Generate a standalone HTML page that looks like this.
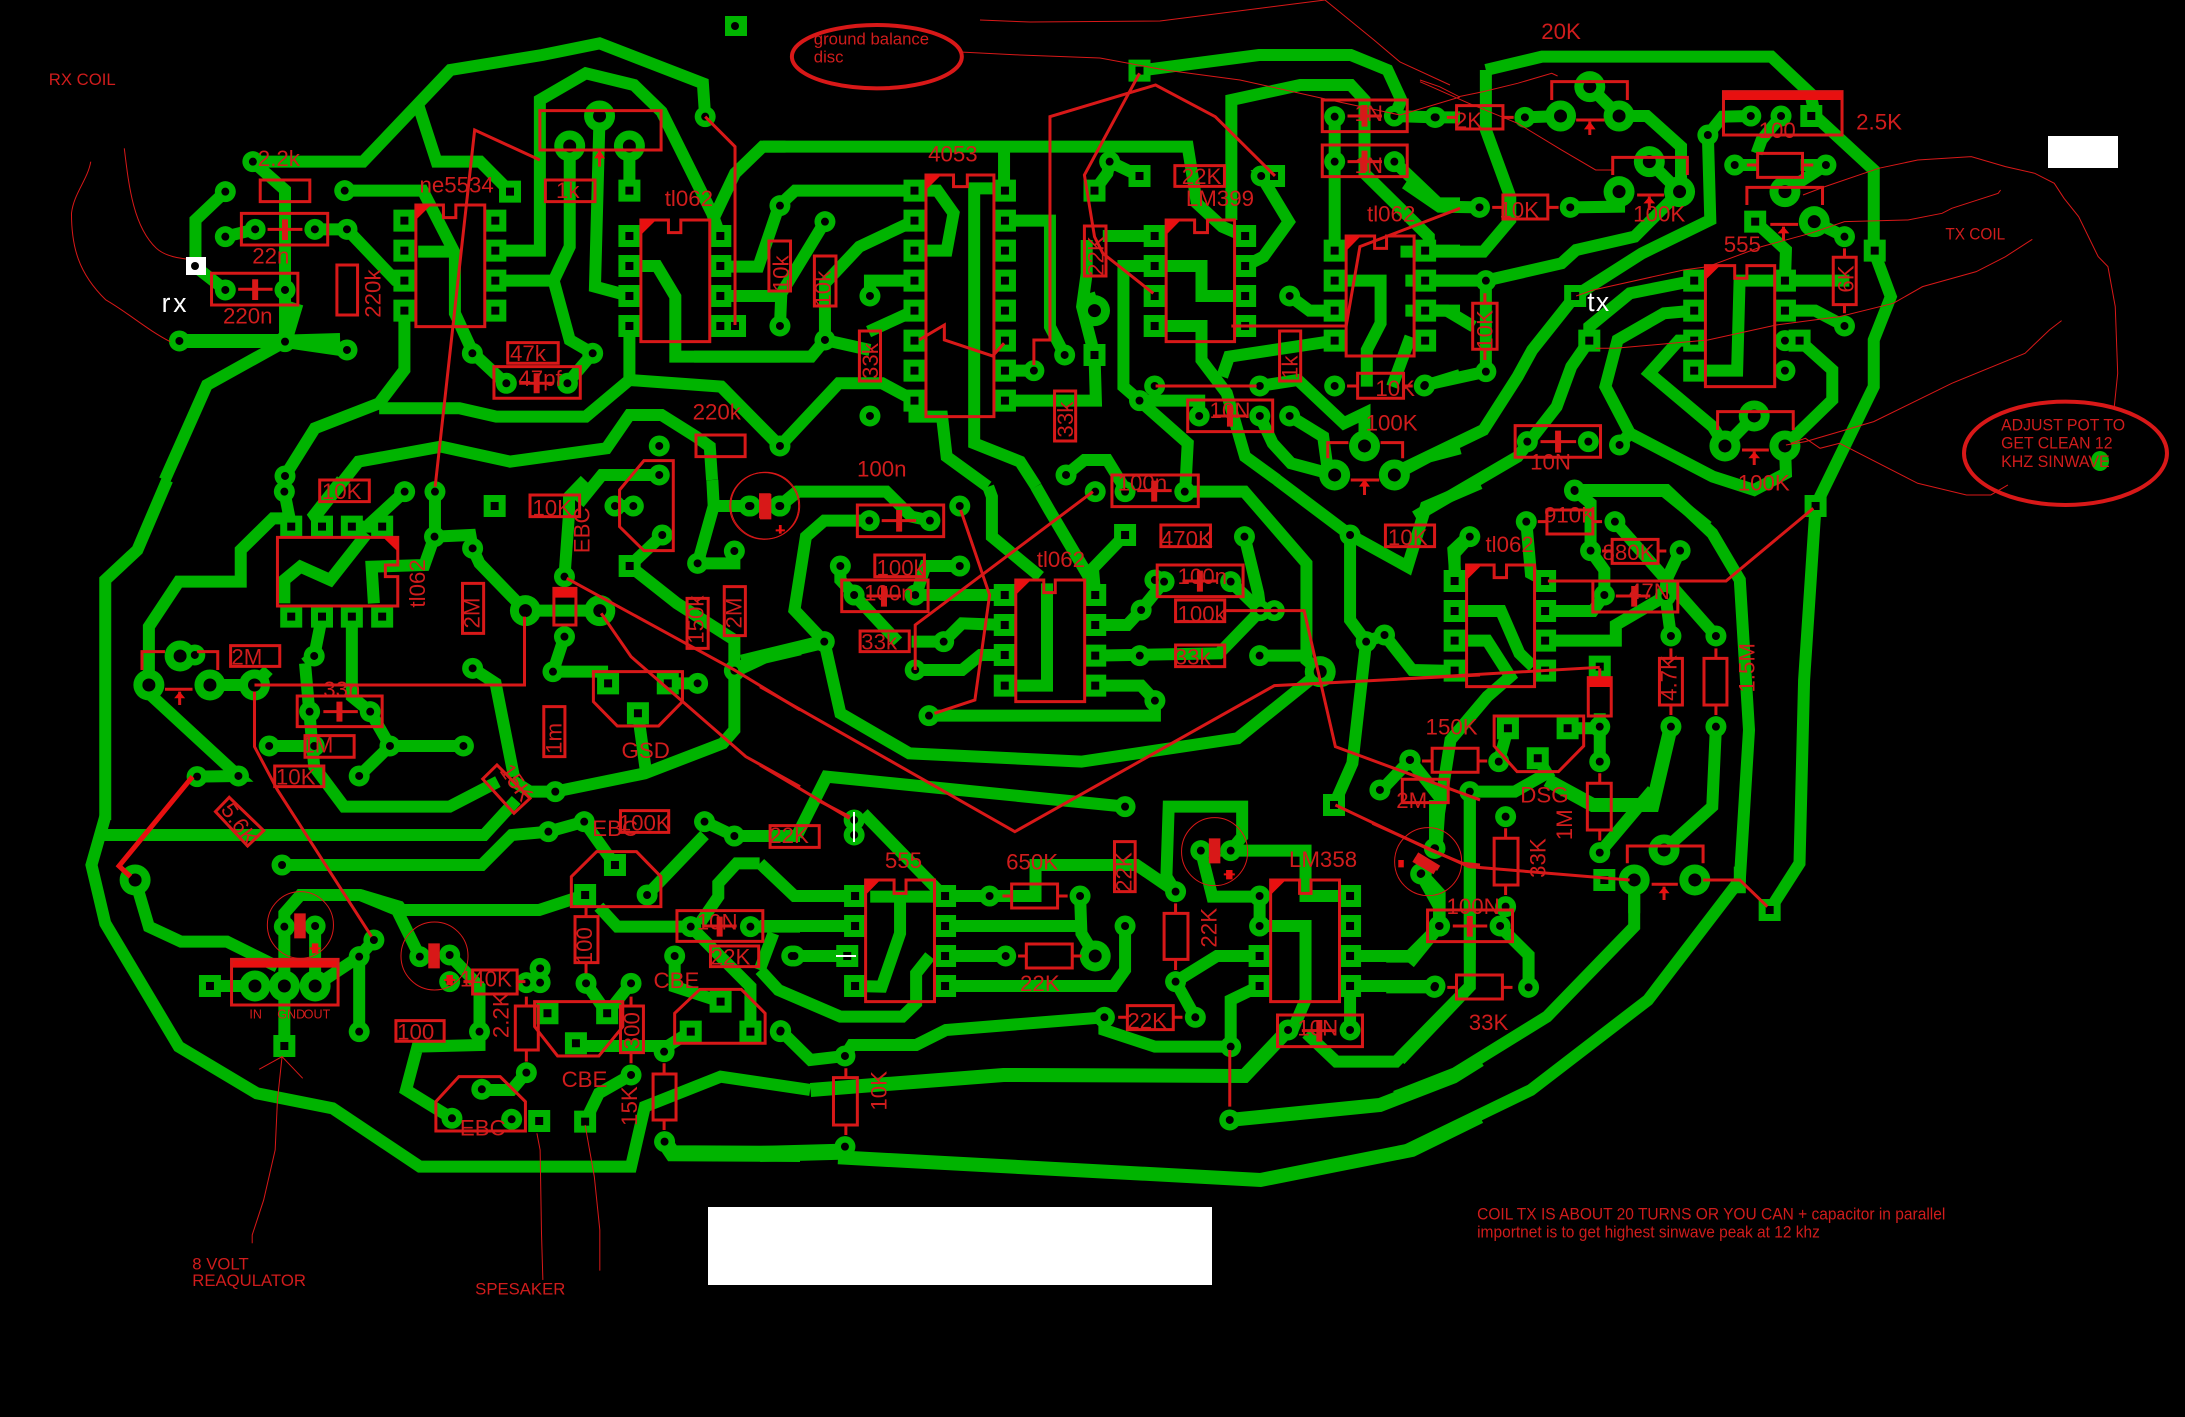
<!DOCTYPE html>
<html><head><meta charset="utf-8"><title>PCB layout</title>
<style>
html,body{margin:0;padding:0;background:#000}
svg{display:block}
path,ellipse{vector-effect:non-scaling-stroke}
.g path{fill:none;stroke:#00b400;stroke-width:12px;stroke-linejoin:miter}
.g path.w{stroke-width:14px}
.g path.x{stroke-width:16px}
.n,.q,.b{fill:none;stroke:var(--c)}
.n{stroke-width:var(--n);stroke-linecap:round}
.q{stroke-width:var(--q);stroke-linecap:square}
.b{stroke-width:var(--b);stroke-linecap:round}
.L1{--c:#00b400;--n:21px;--q:22px;--b:31px}
.L2{--c:#000;--n:8px;--q:8px;--b:13px}
.r path,.r ellipse{fill:none;stroke:#d81818;stroke-width:3px}
.r path.t,.r ellipse.t{stroke-width:1px}
.r path.h{stroke-width:6px}
.r path.f{fill:#e81010;stroke:none}
text{font-family:"Liberation Sans",sans-serif;fill:#d01c1c;font-size:16px}
.s{font-size:12px}
.xs{font-size:9px}
</style></head><body>
<svg xmlns="http://www.w3.org/2000/svg" width="2185" height="1417" viewBox="0 0 2185 1417">
<rect width="2185" height="1417" fill="#000"/>
<defs>
<g id="pA"><path class="n" d="M420 365h0M360 455h0M360 590h0M425 568h0M555 568h0M625 568h0M620 452h0M360 750h0M490 750h0M260 903h0M490 905h0M625 930h0M1405 230h0M898 940h0M1160 940h0M1105 1030h0M972 1030h0M490 1308h0M1305 1218h0M1305 1305h0"/><path class="b" d="M1175 228h0M1110 318h0M1240 318h0"/><path class="q" d="M750 542h0M750 632h0M750 722h0M750 812h0M948 542h0M948 632h0M948 722h0M948 812h0M980 455h0M1240 452h0M1240 588h0M1240 678h0M1240 768h0M1240 858h0M1438 588h0M1438 678h0M1438 768h0M1438 858h0M1470 858h0"/></g>
<g id="pB"><path class="n" d="M87 497h0M185 545h0M87 858h0M185 900h0M283 768h0M87 1218h0M640 992h0M707 945h0M805 365h0M1135 408h0M903 1038h0M1132 1038h0M870 1082h0M1000 1128h0M1132 1128h0M1197 1128h0M1197 768h0M1295 365h0M1295 230h0M1425 228h0M1425 365h0M1515 232h0M1295 1038h0M1490 1038h0M710 1305h0M283 1128h0"/><path class="b" d="M1360 1218h0M1295 1305h0M1425 1305h0M772 812h0"/><path class="q" d="M380 452h0M380 542h0M380 632h0M380 722h0M380 812h0M380 902h0M380 992h0M380 1082h0M577 452h0M577 542h0M577 632h0M577 722h0M577 812h0M577 902h0M577 992h0M577 1082h0M870 92h0M870 408h0M772 452h0M772 945h0M1163 408h0M903 588h0M903 678h0M903 768h0M903 858h0M1100 588h0M1100 678h0M1100 768h0M1100 858h0M1295 632h0M1295 722h0M1295 812h0M1295 902h0M1492 632h0M1492 722h0M1492 812h0M1492 902h0"/></g>
<g id="pC"><path class="n" d="M30 232h0M215 232h0M308 502h0M122 502h0M135 722h0M135 995h0M10 1035h0M590 285h0M678 228h0M740 228h0M645 375h0M832 375h0M870 590h0M748 902h0M748 992h0M870 858h0M220 1205h0M345 1205h0M409 1215h0M317 1353h0"/><path class="b" d="M348 140h0M288 228h0M408 228h0M470 365h0M408 455h0M532 455h0M748 455h0M808 545h0M685 1128h0M625 1218h0M748 1218h0"/><path class="q" d="M802 228h0M932 632h0M318 768h0M347 902h0M562 722h0M562 812h0M562 902h0M562 992h0M748 722h0M748 812h0M778 902h0M687 545h0"/></g>
<g id="pD"><path class="n" d="M445 35h0M707 35h0M773 35h0M1165 78h0M1205 78h0M1055 290h0M1268 165h0M1345 250h0M1425 213h0M1460 78h0M1525 78h0M855 205h0M772 170h0M855 565h0M1055 470h0M1030 575h0M510 528h0M500 695h0M632 695h0M412 798h0M510 798h0M675 798h0M835 798h0M608 888h0M345 888h0M255 890h0M250 525h0M1345 610h0M1035 935h0M1425 572h0"/><path class="b" d="M150 615h0M218 528h0M283 615h0M380 615h0M970 392h0M1132 392h0"/><path class="q" d="M460 140h0M527 140h0M592 140h0M658 140h0M460 410h0M527 410h0M592 410h0M658 410h0M903 78h0M1197 258h0M1150 610h0M1280 610h0M1215 700h0"/></g>
<g id="pE"><path class="n" d="M-24 78h0M42 78h0M238 122h0M370 122h0M435 78h0M175 258h0M435 258h0M205 345h0M338 345h0M400 485h0M140 485h0M338 570h0M368 707h0M860 662h0M827 527h0M830 390h0M880 305h0M860 300h0M1025 305h0M1055 170h0M1090 392h0M1120 392h0M1088 527h0M730 35h0M795 35h0M925 35h0M1285 165h0M1320 485h0M1360 465h0M1415 840h0M1350 930h0M795 980h0M205 1020h0M205 1065h0"/><path class="b" d="M1220 575h0"/><path class="q" d="M533 345h0M533 435h0M533 525h0M533 617h0M730 345h0M730 435h0M730 527h0M730 617h0M795 165h0M1250 975h0"/></g>
<g id="pF"><path class="n" d="M380 30h0M275 125h0M468 125h0M415 212h0M610 212h0M445 345h0M578 348h0M590 468h0M688 468h0M152 170h0M435 740h0M435 845h0M590 740h0M688 740h0M22 840h0M215 845h0M152 935h0M230 1010h0M435 1118h0M230 1280h0M75 1105h0M45 1182h0M85 1338h0M218 1338h0"/><path class="b" d="M575 1110h0M510 1200h0M642 1200h0"/><path class="q" d="M119 303h0M119 393h0M119 482h0M119 572h0M316 303h0M316 393h0M316 482h0M316 572h0M905 78h0M435 560h0M235 745h0M365 745h0M300 835h0M445 1200h0M805 1290h0"/></g>
<g id="pG"><path class="n" d="M1020 95h0M1098 65h0M1360 65h0M1425 108h0M440 195h0M1235 285h0M445 380h0M512 378h0M740 470h0M805 465h0M805 545h0M640 420h0M608 470h0M608 695h0M870 695h0M972 548h0M1002 505h0M1002 548h0M1102 550h0M1200 550h0M972 818h0M875 868h0M1200 825h0M810 955h0M940 958h0M1272 755h0M1273 1025h0M1295 468h0M1330 380h0M1460 380h0M1525 695h0M1550 468h0"/><path class="b" d="M120 240h0M381 558h0M445 558h0M512 558h0"/><path class="q" d="M283 558h0M445 738h0M1165 195h0M1100 285h0M1018 640h0M1148 640h0M1080 730h0M1000 963h0M1100 965h0M1395 605h0M1330 695h0M1460 695h0"/></g>
<g id="pH"><path class="n" d="M500 288h0M697 288h0M905 275h0M960 152h0M1025 152h0M795 378h0M75 468h0M535 468h0M45 692h0M185 768h0M185 1040h0M750 652h0M948 652h0M905 545h0M1088 288h0M1088 378h0M1025 740h0M1023 960h0M1150 690h0M1285 690h0M1470 558h0M1480 378h0M1470 145h0M1440 220h0"/><path class="b" d="M730 468h0"/><path class="q" d="M207 288h0M207 378h0M190 468h0M207 558h0M403 288h0M403 378h0M403 468h0M403 558h0M1088 468h0M1088 558h0M1285 288h0M1285 378h0M1285 468h0M1285 558h0"/></g>
<g id="pI"><path class="n" d="M75 562h0M280 562h0"/></g>
</defs>

<!-- green traces -->
<g class="g">
<g transform="translate(60 40) scale(.4592 .3333)">
<path d="M420 365 660 365 850 90 1050 45 1175 10 1400 130 1405 230"/>
<path d="M780 195 820 365 915 365 980 455"/>
<path d="M420 365 490 450 490 905"/>
<path d="M360 455 295 540 295 680 360 750"/>
<path d="M360 590 425 568M555 568 625 568 730 720 750 722"/>
<path d="M620 452 790 452 860 640 860 820 900 940 970 1030"/>
<path d="M780 635 860 635"/>
<path d="M750 812 750 990 695 1090 555 1165 490 1308"/>
<path d="M695 1105 870 1105 950 1130 1145 1130 1240 1020 1240 858"/>
<path d="M1240 1020 1440 1040 1568 1220"/>
<path d="M948 632 1045 632 1045 180 1145 100 1250 135 1310 215 1420 520 1438 588"/>
<path d="M1425 530 1470 400 1530 320 1580 320"/>
<path d="M948 722 1075 722 1110 620 1110 318"/>
<path d="M1075 722 1110 900 1160 940 1105 1030"/>
<path d="M1175 228 1165 740 1240 768"/>
<path d="M1240 318 1240 452"/>
<path class="w" d="M260 903 490 903 625 930M490 905 610 900M515 790 490 905"/>
<path d="M490 905 320 1035 228 1320"/>
<path d="M1240 678 1300 678 1340 770 1340 950 1568 950"/>
<path d="M1438 768 1568 768"/>
<path d="M1305 1305 1180 1305 1130 1390"/>
<path d="M550 1440 650 1265 830 1220 980 1265 1190 1225 1240 1125 1310 1125 1385 1190 1415 1220 1420 1320"/>
</g>
<g transform="translate(740 40) scale(.4592 .3333)">
<path d="M870 92 1130 45 1330 45 1410 90 1440 180 1425 228 1515 232 1568 232"/>
<path d="M1425 365 1520 490 1568 490"/>
<path d="M1070 540 1070 180 1220 135 1330 135 1360 180 1360 400 1500 590 1500 632"/>
<path d="M50 320 975 320 995 490 1050 560 1100 590"/>
<path d="M575 320 575 452"/>
<path d="M380 452 430 452 465 520 450 632 380 632"/>
<path d="M380 452 120 452 85 497 40 680 -43 680"/>
<path d="M185 545 90 760 87 858"/>
<path d="M380 542 260 620 185 730 185 900 155 950 -100 950"/>
<path d="M185 900 283 930M280 875 380 812"/>
<path d="M380 722 283 722 283 768"/>
<path d="M0 768 100 768"/>
<path d="M380 1082 310 1030 215 1030 87 1218 -41 1040"/>
<path d="M380 1082 380 1130 440 1130 450 1250 540 1340"/>
<path d="M555 445 510 445 510 1210 610 1265 645 1340"/>
<path d="M577 542 675 542 675 860 707 945"/>
<path d="M577 992 640 992"/>
<path d="M577 1082 775 1082 772 945 745 800 755 700 755 600M772 812 760 760"/>
<path d="M772 452 800 400 805 365 870 408"/>
<path d="M790 588 903 588"/>
<path d="M903 678 835 678 835 1040 870 1082 975 1210 970 1340"/>
<path d="M903 678 1005 678 1005 768 1100 768"/>
<path d="M870 1082 1000 1082 1000 1128"/>
<path d="M1100 678 1140 650 1195 545 1135 408 1163 408"/>
<path d="M930 858 1005 858 1005 960 1060 1060 1100 1250 1170 1320"/>
<path d="M1050 1010 1065 950 1295 902"/>
<path d="M1132 1038 1215 1020 1315 1150 1360 1120 1360 1218"/>
<path d="M1132 1128 1160 1210 1200 1270 1295 1305"/>
<path d="M1197 1128 1270 1190 1280 1290"/>
<path d="M1425 1305 1500 1250 1568 1225"/>
<path d="M1490 1038 1568 1005"/>
<path d="M1295 230 1295 632"/>
<path d="M1295 722 1395 722 1395 850 1365 930 1365 1040"/>
<path d="M1197 768 1240 812 1295 812"/>
<path d="M1460 890 1420 1040"/>
<path d="M1492 632 1568 632M1492 722 1568 722M1492 812 1568 812"/>
<path d="M710 1305 750 1260 800 1260 840 1350"/>
</g>
<g transform="translate(1420 40) scale(.4879 .3333)">
<path d="M135 90 250 50 720 50 800 160 810 228 930 390 930 632 965 770 930 900 930 1040 810 1400"/>
<path d="M135 90 135 270 185 470 185 540 130 635 -40 635"/>
<path d="M348 140 408 228 465 228 535 320 535 455"/>
<path d="M470 365 532 455"/>
<path d="M408 455 408 500 308 502"/>
<path d="M-30 430 40 500 122 502"/>
<path d="M532 455 440 590 320 630 290 670 135 722 -30 722"/>
<path d="M135 722 135 995 10 1035"/>
<path d="M-30 812 55 812 110 860"/>
<path d="M678 228 620 230 590 285 595 540 455 640 318 768"/>
<path d="M318 768 230 930 200 1010 130 1170 -40 1290"/>
<path d="M347 902 310 980 280 1100 200 1250 -10 1430"/>
<path d="M562 722 430 760 347 860 347 902"/>
<path d="M562 812 500 820 405 900 380 1040 430 1180 600 1310 685 1350 750 1300 748 1218"/>
<path d="M562 902 530 902 470 1000 600 1160 625 1218"/>
<path d="M778 902 845 990 845 1080 748 1218"/>
<path d="M685 1128 625 1218"/>
<path d="M562 992 650 992 655 722 748 722 880 722"/>
<path d="M748 812 810 812 870 858"/>
<path d="M740 228 700 300 690 340M832 375 748 455"/>
<path d="M645 375 690 375M780 375 832 375"/>
<path d="M687 545 750 630 748 722"/>
<path d="M808 545 870 590"/>
<path d="M409 1215 430 1180"/>
<path d="M317 1353 500 1353 590 1460"/>
<path d="M288 228 215 232"/>
</g>
<g transform="translate(80 480) scale(.4592 .3333)">
<path d="M190 0 125 210 55 300 55 1020"/>
<path d="M940 900 980 935 1035 935 1230 880 1400 790 1425 750 1425 572"/>
<path d="M945 890 905 610 855 565"/>
<path d="M490 550 510 860 575 980 805 980 910 905"/>
<path d="M510 528 490 550M510 528 527 410"/>
<path d="M592 410 592 650 632 695 675 798 835 798M675 798 608 888"/>
<path d="M412 798 510 798"/>
<path d="M445 35 460 140"/>
<path d="M527 140 510 105 570 0"/>
<path d="M707 35 640 120 658 140"/>
<path d="M592 140 658 140"/>
<path d="M445 370 445 300 480 260 545 300 625 160"/>
<path d="M640 370 635 260 750 255 772 170 850 165 855 205 870 250 970 392"/>
<path d="M773 35 773 170"/>
<path d="M970 392 1132 392"/>
<path d="M1055 290 1065 100 1065 50 1100 0"/>
<path d="M1055 470 1030 575 1150 575"/>
<path d="M1280 610 1345 610"/>
<path d="M1215 700 1232 870"/>
<path d="M1165 78 1205 78"/>
<path d="M1268 165 1197 258"/>
<path d="M1197 258 1300 370 1425 480 1425 572"/>
<path class="w" d="M1425 572 1490 530 1568 505"/>
<path d="M150 615 150 440 215 305 350 305 350 210 420 115 460 115"/>
<path d="M218 528 250 525"/>
<path d="M283 615 380 615 410 570"/>
<path d="M150 640 345 888 255 890"/>
<path d="M1460 78 1380 78 1345 250 1425 250 1425 213M1377 0 1380 78"/>
<path d="M1525 78 1568 30"/>
</g>
<g transform="translate(80 800) scale(.4592 .3333)">
<path d="M55 50 25 195 55 370 215 740 385 880 550 925 740 1100 1200 1100 1230 920 1395 830 1590 870"/>
<path d="M50 105 880 105 950 0"/>
<path d="M440 195 875 195 940 105 1020 95 1098 65 1165 195"/>
<path d="M1360 65 1425 108 1568 108"/>
<path d="M1360 105 1235 285"/>
<path d="M1100 285 1000 330 700 330 695 320 610 285 480 285 445 340 445 558 445 738"/>
<path d="M610 285 690 330 740 470"/>
<path d="M512 378 512 558"/>
<path d="M283 558 381 558"/>
<path d="M512 558 608 470 640 420M608 470 608 695"/>
<path d="M120 240 150 380 220 425 320 425 430 500"/>
<path d="M805 465 870 560 870 735 735 740 710 870 810 955"/>
<path d="M1002 505 1002 548 972 548"/>
<path d="M972 818 940 870 875 870"/>
<path d="M1102 550 1148 640 1200 550"/>
<path d="M1080 738 1280 738 1330 695"/>
<path d="M1200 825 1130 880 1100 965"/>
<path class="x" d="M1273 1025 1290 1060 1568 1062"/>
<path d="M1130 320 1170 380 1330 380 1460 560 1460 695"/>
<path d="M1295 468 1295 560 1395 605"/>
<path d="M1460 380 1568 380"/>
<path d="M1350 370 1390 290 1390 250 1430 190 1480 190"/>
<path d="M1510 400 1480 510"/>
</g>
<g transform="translate(760 480) scale(.4592 .3333)">
<path d="M42 78 80 35 275 35 330 110 370 122"/>
<path d="M238 122 140 122 100 170 75 390 140 485 175 700 325 820 700 845 1040 775 1220 575"/>
<path class="w" d="M-40 545 140 485"/>
<path d="M175 258 175 300 205 345 300 485"/>
<path d="M435 258 360 258 340 345"/>
<path d="M338 345 533 345"/>
<path d="M400 485 330 485M400 485 440 430 533 435"/>
<path d="M338 570 440 570 480 525 533 525"/>
<path d="M533 617 625 617 625 310"/>
<path d="M497 20 505 50 505 170 610 290"/>
<path d="M601 20 630 90 720 300 730 345"/>
<path d="M795 165 725 265 730 345"/>
<path d="M730 435 800 435 830 390 880 305"/>
<path d="M1055 170 1085 340 1090 392"/>
<path d="M1025 305 1090 392"/>
<path d="M1090 392 1000 520 730 527"/>
<path d="M1090 392 1120 392"/>
<path d="M925 35 1055 35 1190 250 1190 540 1220 575"/>
<path d="M1088 527 1190 527"/>
<path d="M730 617 830 617 860 662 860 707 368 707"/>
<path d="M1285 165 1285 420 1320 485 1290 850 1250 975"/>
<path d="M1126 0 1285 165 1410 260 1450 80 1568 10"/>
<path d="M1320 485 1360 465 1420 570 1515 573"/>
<path d="M1545 165 1510 210 1515 305"/>
<path d="M80 1068 145 890 795 980"/>
<path d="M0 1068 80 1068"/>
<path d="M225 1000 400 1248"/>
<path d="M205 1020 205 1065"/>
</g>
<g transform="translate(760 800) scale(.4592 .3333)">
<path d="M0 190 75 288 207 288"/>
<path d="M403 288 500 288 600 288 600 195 820 195 905 275"/>
<path d="M0 378 207 378"/>
<path d="M75 468 190 468"/>
<path d="M240 290 403 290"/>
<path d="M305 300 305 400 265 560 207 558"/>
<path d="M403 378 695 378"/>
<path d="M697 288 700 400 730 468"/>
<path d="M403 468 535 468"/>
<path d="M403 558 770 558 795 510 795 378"/>
<path d="M370 468 340 520 340 610 310 650 175 650 40 570 0 510"/>
<path d="M905 275 885 230 890 20 1050 20 1050 110 1025 152 1188 152 1188 288 1285 288"/>
<path d="M960 152 985 290 1088 290 1088 378 1188 378 1188 600 1160 690"/>
<path d="M905 545 995 468 1088 468"/>
<path d="M905 545 948 652"/>
<path d="M1088 558 1025 600 1025 740 860 740 750 690 750 652 405 690 340 735 200 735 185 768 110 780 45 692"/>
<path class="w" d="M110 870 530 825 1055 828 1150 690"/>
<path d="M1285 468 1415 468 1480 378 1480 280 1440 220"/>
<path d="M1285 558 1470 558"/>
<path d="M1285 558 1285 690"/>
<path d="M1190 700 1255 785 1385 785 1545 560"/>
<path d="M1470 145 1470 0"/>
<path class="w" d="M1023 960 1350 915 1510 830 1568 780"/>
<path class="x" d="M0 1062 185 1055"/>
<path class="w" d="M170 1072 1090 1140 1420 1050 1568 950"/>
</g>
<g transform="translate(1400 480) scale(.4592 .3333)">
<path d="M380 30 580 30 680 160 740 300 760 750 740 1200 740 1240"/>
<path d="M905 78 880 600 870 1150 805 1290"/>
<path d="M380 30 415 70 415 212 445 270 445 345"/>
<path d="M275 125 285 280 316 303"/>
<path d="M468 125 688 468"/>
<path d="M610 212 580 300 578 348 470 435 470 482 316 482"/>
<path d="M578 348 590 468"/>
<path d="M316 393 420 393 445 345"/>
<path d="M152 170 119 220 119 303"/>
<path d="M119 393 220 393 260 520 290 560"/>
<path d="M119 482 190 482 240 590 190 650 110 780 85 1000 80 1100"/>
<path d="M435 560 435 590M435 700 435 845M365 745 435 745"/>
<path d="M235 745 215 845"/>
<path d="M300 835 320 880 250 935 152 935 152 1440"/>
<path class="w" d="M320 900 420 975 550 975 590 740"/>
<path d="M550 930 435 1118"/>
<path d="M688 740 680 980 575 1110"/>
<path d="M510 1200 510 1300"/>
<path d="M22 840 -40 930M22 840 85 950"/>
<path d="M45 1182 85 1280 85 1338"/>
<path d="M85 1340 20 1450"/>
</g>
<g transform="translate(1400 800) scale(.4592 .3333)">
<path d="M740 200 740 240 540 600 285 870 0 1060"/>
<path d="M510 240 510 380 320 650 120 820 -10 890"/>
<path d="M218 380 280 465 280 562"/>
<path d="M75 562 -30 562"/>
<path d="M152 0 152 560 0 780"/>
<path d="M-30 470 25 470 85 380"/>
</g>
</g>

<!-- pads -->
<g class="L1">
<use href="#pA" transform="translate(60 40) scale(.4592 .3333)"/>
<use href="#pB" transform="translate(740 40) scale(.4592 .3333)"/>
<use href="#pC" transform="translate(1420 40) scale(.4879 .3333)"/>
<use href="#pD" transform="translate(80 480) scale(.4592 .3333)"/>
<use href="#pE" transform="translate(760 480) scale(.4592 .3333)"/>
<use href="#pF" transform="translate(1400 480) scale(.4592 .3333)"/>
<use href="#pG" transform="translate(80 800) scale(.4592 .3333)"/>
<use href="#pH" transform="translate(760 800) scale(.4592 .3333)"/>
<use href="#pI" transform="translate(1400 800) scale(.4592 .3333)"/>
</g>
<rect x="725" y="16" width="22" height="20" fill="#00b400"/>
<ellipse cx="2100" cy="461" rx="9" ry="10" fill="#00b400"/>
<g class="L2">
<use href="#pA" transform="translate(60 40) scale(.4592 .3333)"/>
<use href="#pB" transform="translate(740 40) scale(.4592 .3333)"/>
<use href="#pC" transform="translate(1420 40) scale(.4879 .3333)"/>
<use href="#pD" transform="translate(80 480) scale(.4592 .3333)"/>
<use href="#pE" transform="translate(760 480) scale(.4592 .3333)"/>
<use href="#pF" transform="translate(1400 480) scale(.4592 .3333)"/>
<use href="#pG" transform="translate(80 800) scale(.4592 .3333)"/>
<use href="#pH" transform="translate(760 800) scale(.4592 .3333)"/>
<use href="#pI" transform="translate(1400 800) scale(.4592 .3333)"/>
</g>
<circle cx="735" cy="26" r="4" fill="#000"/>

<!-- red layer -->
<g class="r">
<g transform="translate(60 40) scale(.4592 .3333)">
<path d="M436 420h108v65h-108zM395 520h188v95h-188zM452 568h76M330 700h188v95h-188zM388 748h75M603 675h45v150h-45zM1045 212h264v118h-264zM1057 420h108v65h-108zM975 908h110v62h-110zM945 980h188v95h-188zM1000 1030h75M1385 1185h107v65h-107z"/>
<path d="M775 495H835V533H862V495H925V860H775zM1265 540H1325V578H1352V540H1415V905H1265zM1175 330V380"/>
<path d="M817 1340 903 270 1045 360M1405 230 1470 320 1470 855"/>
<path class="h" d="M490 538V600M425 718V780M1038 1000V1060"/>
<path class="f" d="M775 495H808L775 540zM1265 540H1298L1265 585zM1163 355H1187L1175 330z"/>
<path class="t" d="M67 365C60 420 30 460 25 520 25 620 40 700 100 780 150 820 190 870 240 905M140 325C150 440 160 560 210 625 230 650 260 655 290 660"/>
</g>
<g transform="translate(740 40) scale(.4592 .3333)">
<path d="M870 100 750 405 772 590 790 640 900 760M640 975 640 900 675 900 675 230 905 135 1035 230 1165 408M390 900 445 855 445 900 550 948 575 910M1070 858 1320 858 1350 620 1568 505"/>
<path d="M905 1038H1125"/>
<path d="M405 405H465V440H495V405H553V1130H405zM928 540H990V578H1018V540H1077V905H928zM1320 588H1382V625H1408V588H1468V948H1320z"/>
<path d="M63 603h47v150h-47zM162 648h47v150h-47zM260 873h46v150h-46zM750 558h47v150h-47zM685 1053h46v150h-46zM947 377h108v62h-108zM1175 873h46v150h-46zM1345 1000h100v75h-100zM1322 1038h23M1445 1038h20M975 1080h185v95h-185zM1030 1128h75M810 1305h188v95h-188zM865 1352h75M1268 180h185v95h-185zM1323 228h75M1268 315h185v95h-185zM1323 365h75"/>
<path d="M1280 1255V1208H1325M1395 1208H1443V1255M1330 1320H1392M1360 1325V1365"/>
<path class="h" d="M1067 1095V1160M902 1322V1385M1360 195V260M1360 332V395"/>
<path class="f" d="M405 405H438L405 450zM928 540H960L928 585zM1320 588H1352L1320 633zM1348 1340H1372L1360 1318z"/>
<path d="M298 -45a185 95 0 1 0 .1 0z" style="stroke-width:4px"/>
<ellipse class="t" cx="55" cy="1397" rx="75" ry="100"/>
<path class="h" d="M48 1360V1435M60 1360V1435"/>
</g>
<g transform="translate(1420 40) scale(.4879 .3333)">
<path d="M75 197h95v70h-95zM55 232h20M170 232h22M270 180V125H425V180M320 240H378M348 245V285M395 405V352H548V405M445 465H500M470 470V510M170 465h92v72h-92zM148 502h22M262 502h22"/>
<path d="M622 155H865V285H622zM692 340h92v72h-92zM670 375h22M784 375h22M670 495V442H825V495M718 553H775M745 560V600M585 677H645V715H670V677H727V1040H585zM847 652h47v142h-47zM870 625V652M870 794V820M108 790h50v138h-50zM133 760V790M133 928V960M195 1157h175v95h-175zM247 1205h73M610 1170V1115H765V1170M660 1230H715M685 1235V1275"/>
<path class="f" d="M622 155H865V180H622zM585 677H615L585 720zM336 268H360L348 245zM458 490H482L470 470zM733 580H757L745 560zM673 1255H697L685 1235z"/>
<path class="h" d="M283 1172V1238"/>
<ellipse cx="1323" cy="1240" rx="208" ry="155" style="stroke-width:4px"/>
<path class="t" d="M1190 450 1185 460 1090 505 1070 520 1000 540 870 545 800 580 700 620 590 680 540 690 355 750 320 768M1255 598 1200 650 1140 695 1030 740 970 790 860 830 730 855 590 900 400 925 360 925M1315 842 1290 870 1240 940 1090 1030 930 1145 790 1205 750 1215M0 120 40 140 80 170 130 155 200 130 270 100 282 108M0 125 100 190 200 250 290 330 360 390 395 390M785 465 830 440 940 385 1020 360 1130 350 1200 380 1260 400 1300 430 1320 475 1350 530 1390 650 1410 680 1425 800 1430 1000 1423 1100M760 1210 790 1195 820 1225 860 1210 1020 1330 1120 1365 1170 1365 1205 1335"/>
</g>
<g transform="translate(80 480) scale(.4592 .3333)">
<path d="M522 0h108v65h-108zM980 45h108v65h-108zM430 172H692V255H665V290H692V378H430zM833 310h46v150h-46zM1403 320h46v147h-46zM1322 355h46v150h-46zM1032 325h48v110h-48zM1010 680h46v150h-46zM328 497h107v62h-107zM135 570V515H185M255 515H300V570M185 628H245M217 635V675M473 648h185v92h-185zM530 695h75M490 767h107v65h-107zM424 858h107v62h-107z"/>
<path d="M380 615H968V410M380 635V800L430 930 635 1370M1060 295 1425 570 1568 690M1135 400 1200 530 1300 650 1450 830 1568 920"/>
<path d="M908 855 980 955 945 1000 877 897zM325 952 400 1052 365 1098 295 995zM1118 575H1312V665L1260 738H1170L1118 665zM1175 30 1228 -58H1292V212H1228L1175 140z"/>
<ellipse class="t" cx="1490" cy="78" rx="75" ry="100"/>
<path class="h" d="M1487 42V118M1499 42V118M565 665V725"/>
<path class="f" d="M692 172H660L692 215zM1032 325h48v28h-48zM205 655H229L217 635zM1515 148h20v6h-20zM1522 135h6v26h-6z"/>
<path d="M245 890 85 1158 110 1190" style="stroke-width:5px;stroke:#e81010"/>
</g>
<g transform="translate(80 800) scale(.4592 .3333)">
<ellipse class="t" cx="480" cy="375" rx="72" ry="100"/>
<ellipse class="t" cx="772" cy="468" rx="73" ry="102"/>
<path class="h" d="M473 340V415M485 340V415M765 430V505M777 430V505M1393 350V410"/>
<path class="f" d="M330 478H562V503H330zM505 430h14v30h-14zM500 442h24v6h-24zM798 525h14v30h-14zM793 537h24v6h-24z"/>
<path d="M330 478H562V615H330zM1125 155H1212L1265 230V320H1070V230zM1078 350h50v138h-50zM1102 320V350M1102 488V520M688 662h105v62h-105zM855 510h97v72h-97zM835 545h20M955 545h15M948 618h50v132h-50zM972 590V618M972 750V785M990 605H1182V680L1130 768H1040L990 680zM1177 618h50v140h-50zM1200 590V618M1200 758V790M825 830H915L970 905V993H775V905zM1248 822h50v138h-50zM1272 790V822M1272 960V990M1300 332h187v92h-187zM1355 378h75M1373 438h105v62h-105zM1350 568H1440L1492 640V730H1295V640zM1177 32h105v65h-105z"/>
<path class="t" d="M440 770 430 900 425 1050 400 1200 375 1305V1330M390 808 440 770 485 835M995 1000 1002 1050 1005 1300 1008 1440M1100 975 1120 1130 1132 1290V1412"/>
</g>
<g transform="translate(760 480) scale(.4592 .3333)">
<path d="M212 75h188v95h-188zM265 122h75M250 225h108v65h-108zM178 300h188v95h-188zM232 348h75M218 453h107v62h-107zM557 300H618V338H643V300H707V665H557zM873 135h108v65h-108zM865 255h187v95h-187zM920 303h75M905 360h107v65h-107zM905 495h107v65h-107zM1362 135h107v65h-107z"/>
<path d="M437 90 500 345 468 660 380 700M725 35 338 435V570M1015 392H1185L1253 800 1568 960M1568 585 1120 617 555 1055 0 620M1253 975 1460 1110 1530 1150 1568 1155M0 855 195 1015"/>
<path class="h" d="M303 90V155M270 318V380M958 272V335"/>
<path class="f" d="M557 300H590L557 345z"/>
</g>
<g transform="translate(760 800) scale(.4592 .3333)">
<path d="M230 240H292V280H318V240H380V605H230zM1112 240H1175V280H1200V240H1262V605H1112zM22 77h107v65h-107zM772 125h45v150h-45zM548 252h100v72h-100zM528 288h20M648 288h22M580 432h100v72h-100zM562 468h18M680 468h20M880 340h52v138h-52zM905 310V340M905 478V510M800 617h100v72h-100zM780 652h20M900 652h20M1127 645h185v95h-185zM1180 692h75M160 833h52v142h-52zM187 805V833M187 975V1005M1023 750V920M125 0 195 50"/>
<ellipse class="t" cx="990" cy="155" rx="72" ry="102"/>
<ellipse class="t" cx="1455" cy="185" rx="73" ry="102"/>
<path class="h" d="M984 115V190M996 115V190M1218 660V725M1430 165 1478 205M1424 178 1470 215"/>
<path class="f" d="M230 240H262L230 285zM1112 240H1145L1112 285zM1015 210h14v28h-14zM1010 220h24v6h-24zM1390 180h12v22h-12z"/>
</g>
<g transform="translate(1400 480) scale(.4592 .3333)">
<path d="M320 90h100v72h-100zM300 125h20M420 125h20M462 178h100v72h-100zM440 213h22M562 213h18M145 255H205V293H232V255H293V620H145zM420 303h185v93h-185zM470 348h75M565 535h50v140h-50zM590 505V535M590 675V705M662 535h50v140h-50zM688 505V535M688 675V705M410 593h50v115h-50zM435 565V593M205 708H400V798L345 875H255L205 798zM70 805h100v72h-100zM48 843h22M170 843h20M5 898h100v70h-100zM408 910h52v140h-52zM435 880V910M435 1050V1082M205 1075h52v140h-52zM230 1045V1075M230 1215V1245M495 1150V1098H660V1150M548 1213H605M575 1220V1260"/>
<path d="M322 303H710L900 85M0 597 435 562M660 1200H740L800 1280M-60 1030 150 1160 500 1200"/>
<path class="h" d="M510 318V380"/>
<path class="f" d="M145 255H178L145 300zM410 593h50v28h-50zM563 1240H587L575 1220z"/>
</g>
<g transform="translate(1400 800) scale(.4592 .3333)">
<path d="M60 330h185v95h-185zM115 378h75M123 525h100v72h-100zM103 562h20M223 562h22"/>
<path class="h" d="M152 348V410"/>
</g>
<!-- thin wires top -->
<path class="t" d="M960 52 1020 55 1100 58 1165 70 1240 80 1330 100 1400 115 1460 97"/>
<path class="t" d="M980 20 1030 22 1160 21 1325 0"/>
<path class="t" d="M1325 0 1374 40 1400 62 1450 85"/>
</g>

<!-- white items -->
<rect x="2048" y="136" width="70" height="32" fill="#fff"/>
<rect x="708" y="1207" width="504" height="78" fill="#fff"/>
<rect x="186" y="257" width="20" height="18" fill="#fff"/>
<circle cx="195" cy="266" r="4" fill="#000"/>
<path d="M854 812V842M836 956H856" stroke="#fff" stroke-width="2" fill="none"/>

<!-- labels (in 1568-wide space) -->
<g transform="scale(1.3935)">
<text x="35" y="61" class="s">RX COIL</text>
<text x="584" y="32" class="s">ground balance</text>
<text x="584" y="45" class="s">disc</text>
<text x="1106" y="28">20K</text>
<text x="185" y="119">2.2k</text>
<text x="181" y="189">22n</text>
<text x="160" y="232">220n</text>
<text transform="rotate(-90 273 228)" x="273" y="228">220k</text>
<text x="301" y="138">ne5534</text>
<text x="366" y="259">47k</text>
<text x="372" y="277">47pf</text>
<text x="399" y="142">1k</text>
<text x="477" y="148">tl062</text>
<text x="666" y="116">4053</text>
<text transform="rotate(-90 566 209)" x="566" y="209">10k</text>
<text transform="rotate(-90 596 220)" x="596" y="220">10k</text>
<text transform="rotate(-90 630 272)" x="630" y="272">33k</text>
<text transform="rotate(-90 770 314)" x="770" y="314">33k</text>
<text transform="rotate(-90 792 198)" x="792" y="198">22K</text>
<text x="848" y="132">22K</text>
<text x="851" y="148">LM399</text>
<text x="981" y="159">tl062</text>
<text x="972" y="87">1N</text>
<text x="972" y="124">1N</text>
<text x="1044" y="92">2K</text>
<text x="1076" y="156">10K</text>
<text x="1172" y="159">100K</text>
<text x="1332" y="93">2.5K</text>
<text x="1262" y="99">100</text>
<text x="1237" y="181">555</text>
<text transform="rotate(-90 1330 210)" x="1330" y="210">6K</text>
<text transform="rotate(-90 1071 251)" x="1071" y="251">10K</text>
<text transform="rotate(-90 931 272)" x="931" y="272">1k</text>
<text x="987" y="284">10K</text>
<text x="980" y="309">100K</text>
<text x="868" y="300">10N</text>
<text x="1098" y="337">10N</text>
<text x="802" y="352">100n</text>
<text x="833" y="392">470K</text>
<text x="845" y="419">100n</text>
<text x="845" y="446">100k</text>
<text x="843" y="477">33k</text>
<text x="744" y="407">tl062</text>
<text x="615" y="342">100n</text>
<text x="629" y="413">100k</text>
<text x="620" y="431">100n</text>
<text x="618" y="466">33k</text>
<text x="497" y="301">220k</text>
<text x="231" y="358">10K</text>
<text x="382" y="370">10K</text>
<text transform="rotate(-90 423 397)" x="423" y="397">EBC</text>
<text transform="rotate(-90 305 436)" x="305" y="436">tl062</text>
<text transform="rotate(-90 344 451)" x="344" y="451">2M</text>
<text transform="rotate(-90 505 462)" x="505" y="462">150k</text>
<text transform="rotate(-90 532 451)" x="532" y="451">2M</text>
<text x="166" y="477">2M</text>
<text x="232" y="500">33n</text>
<text x="217" y="540">1M</text>
<text x="198" y="563">10K</text>
<text transform="rotate(55 158 581)" x="158" y="581">5.6K</text>
<text transform="rotate(55 358 553)" x="358" y="553">15K</text>
<text transform="rotate(-90 403 541)" x="403" y="541">1m</text>
<text x="446" y="544">GSD</text>
<text x="425" y="600">EBC</text>
<text x="444" y="596">100K</text>
<text x="552" y="605">22K</text>
<text x="500" y="667">10N</text>
<text x="510" y="692">22K</text>
<text x="635" y="623">555</text>
<text x="722" y="624">650K</text>
<text transform="rotate(-90 812 640)" x="812" y="640">22K</text>
<text transform="rotate(-90 873 680)" x="873" y="680">22K</text>
<text x="925" y="622">LM358</text>
<text x="732" y="711">22K</text>
<text x="809" y="738">22K</text>
<text x="1054" y="739">33K</text>
<text x="931" y="743">10N</text>
<text x="1038" y="656">100N</text>
<text transform="rotate(-90 636 797)" x="636" y="797">10K</text>
<text transform="rotate(-90 457 808)" x="457" y="808">15K</text>
<text transform="rotate(-90 459 753)" x="459" y="753">300</text>
<text x="285" y="746">100</text>
<text x="330" y="708">140K</text>
<text transform="rotate(-90 365 745)" x="365" y="745">2.2K</text>
<text x="469" y="709">CBE</text>
<text x="403" y="780">CBE</text>
<text x="330" y="815">EBC</text>
<text transform="rotate(-90 425 692)" x="425" y="692">100</text>
<text x="179" y="731" class="xs">IN</text>
<text x="199" y="731" class="xs">GND</text>
<text x="218" y="731" class="xs">OUT</text>
<text x="138" y="911" class="s">8 VOLT</text>
<text x="138" y="923" class="s">REAQULATOR</text>
<text x="341" y="929" class="s">SPESAKER</text>
<text x="1060" y="875" class="s" textLength="336" lengthAdjust="spacingAndGlyphs">COIL TX IS ABOUT 20 TURNS OR YOU CAN + capacitor in parallel</text>
<text x="1060" y="888" class="s" textLength="246" lengthAdjust="spacingAndGlyphs">importnet is to get highest sinwave peak at 12 khz</text>
<text x="1396" y="172" class="s" textLength="43" lengthAdjust="spacingAndGlyphs">TX COIL</text>
<text x="1436" y="309" class="s" textLength="89" lengthAdjust="spacingAndGlyphs">ADJUST POT TO</text>
<text x="1436" y="322" class="s" textLength="80" lengthAdjust="spacingAndGlyphs">GET CLEAN 12</text>
<text x="1436" y="335" class="s" textLength="78" lengthAdjust="spacingAndGlyphs">KHZ SINWAVE</text>
<text x="1108" y="375">910K</text>
<text x="1150" y="402">880K</text>
<text x="1169" y="430">47N</text>
<text transform="rotate(-90 1203 503)" x="1203" y="503">4.7K</text>
<text transform="rotate(-90 1259 497)" x="1259" y="497">1.5M</text>
<text x="1066" y="396">tl062</text>
<text x="996" y="391">10K</text>
<text x="1023" y="527">150K</text>
<text x="1002" y="580">2M</text>
<text x="1091" y="576">DSG</text>
<text transform="rotate(-90 1109 630)" x="1109" y="630">33K</text>
<text transform="rotate(-90 1128 603)" x="1128" y="603">1M</text>
<text x="1247" y="352">100K</text>
<text x="116" y="224" style="fill:#fff;font-size:19px;letter-spacing:2px">rx</text>
<text x="1139" y="223" style="fill:#fff;font-size:19px;letter-spacing:1px">tx</text>
</g>
</svg>
</body></html>
